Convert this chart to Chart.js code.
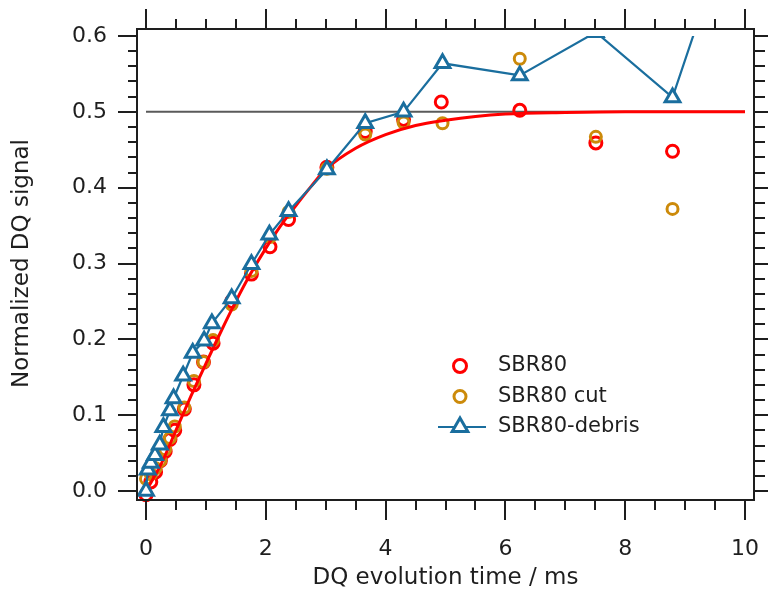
<!DOCTYPE html>
<html><head><meta charset="utf-8">
<script src="https://cdn.jsdelivr.net/npm/chart.js@4.4.1/dist/chart.umd.min.js"></script>
<style>html,body{margin:0;padding:0;background:#fff;}#wrap{width:768px;height:597px;}</style>
</head><body><div id="wrap"><canvas id="c" width="768" height="597"></canvas></div>
<script>
// ---- data ----
const xTitle = 'DQ evolution time / ms';
const yTitle = 'Normalized DQ signal';
const xTickValues = [0, 2, 4, 6, 8, 10];
const yTickValues = [0.0, 0.1, 0.2, 0.3, 0.4, 0.5, 0.6];

const sbr80X = [0, 0.08, 0.16, 0.24, 0.32, 0.40, 0.48, 0.64, 0.80, 0.96, 1.12, 1.43, 1.76, 2.07, 2.38, 3.02, 3.66, 4.30, 4.93, 6.24, 7.51, 8.79];
const sbr80Y = [-0.005, 0.012, 0.025, 0.040, 0.052, 0.068, 0.080, 0.108, 0.140, 0.170, 0.195, 0.250, 0.286, 0.322, 0.358, 0.427, 0.474, 0.490, 0.513, 0.502, 0.459, 0.448];

const cutX = [0, 0.08, 0.16, 0.24, 0.32, 0.40, 0.48, 0.64, 0.80, 0.96, 1.12, 1.43, 1.76, 2.07, 2.38, 3.02, 3.66, 4.30, 4.95, 6.24, 7.51, 8.79];
const cutY = [0.016, 0.022, 0.030, 0.040, 0.055, 0.070, 0.085, 0.110, 0.145, 0.170, 0.199, 0.246, 0.290, 0.335, 0.368, 0.425, 0.470, 0.486, 0.485, 0.570, 0.467, 0.372];

const debrisX = [0, 0.03, 0.08, 0.15, 0.23, 0.29, 0.40, 0.46, 0.62, 0.78, 0.97, 1.10, 1.43, 1.76, 2.06, 2.38, 3.02, 3.66, 4.30, 4.95, 6.24, 7.51, 8.79, 10.07];
const debrisY = [0.000, 0.028, 0.037, 0.047, 0.061, 0.084, 0.106, 0.122, 0.152, 0.182, 0.198, 0.221, 0.254, 0.299, 0.338, 0.369, 0.424, 0.485, 0.500, 0.564, 0.548, 0.605, 0.519, 0.82];

const fitX = [0, 0.25, 0.5, 0.75, 1.0, 1.25, 1.5, 1.75, 2.0, 2.25, 2.5, 2.75, 3.0, 3.5, 4.0, 4.5, 5.0, 5.5, 6.0, 7.0, 8.0, 10.0];
const fitY = [0, 0.035, 0.080, 0.125, 0.168, 0.210, 0.250, 0.287, 0.320, 0.350, 0.376, 0.401, 0.424, 0.452, 0.470, 0.482, 0.489, 0.494, 0.497, 0.499, 0.500, 0.500];

const refX = [0, 10];
const refY = [0.5, 0.5];

const legendLabels = ['SBR80', 'SBR80 cut', 'SBR80-debris'];

// ---- helpers ----
const pts = (xs, ys) => xs.map((v, i) => ({x: v, y: ys[i]}));
const RED = '#ff0000', ORANGE = '#cc8a0a', BLUE = '#1a6e9e', INK = '#1e1e1e';
const FONT = 'DejaVu Sans';
Chart.defaults.font.family = FONT;

const xMinorStep = 0.5, yMinorStep = 0.02;

const framePlugin = {
  id: 'frame',
  afterDraw(chart) {
    const {ctx, chartArea: a, scales: {x, y}} = chart;
    const L = a.left - 9, R = a.right + 9, T = a.top - 7, B = a.bottom + 9;
    ctx.save();
    ctx.strokeStyle = INK;
    ctx.lineWidth = 2;
    ctx.strokeRect(L, T, R - L, B - T);
    ctx.beginPath();
    const nx = Math.round((x.max - x.min) / xMinorStep);
    for (let i = 0; i <= nx; i++) {
      const v = x.min + i * xMinorStep;
      const px = Math.round(x.getPixelForValue(v));
      const len = (i % 4 === 0) ? 20 : 10;
      ctx.moveTo(px, B); ctx.lineTo(px, B + len);
      ctx.moveTo(px, T); ctx.lineTo(px, T - len);
    }
    const ny = Math.round((y.max - y.min) / yMinorStep);
    for (let i = 0; i <= ny; i++) {
      const v = y.min + i * yMinorStep;
      const py = Math.round(y.getPixelForValue(v));
      const len = (i % 5 === 0) ? 19 : 9;
      ctx.moveTo(L, py); ctx.lineTo(L - len, py);
      ctx.moveTo(R, py); ctx.lineTo(R + ((i % 5 === 0) ? 18 : 11), py);
    }
    ctx.stroke();
    ctx.restore();
  }
};

const legendPlugin = {
  id: 'customLegend',
  afterDraw(chart) {
    const {ctx} = chart;
    const order = [3, 2, 0]; // dataset indices: SBR80, SBR80 cut, SBR80-debris
    const mx = 460, tx = 498, y0 = 366, dy = 30.5;
    ctx.save();
    order.forEach((di, k) => {
      const ds = chart.data.datasets[di];
      const yy = y0 + k * dy;
      if (ds.showLine) {
        ctx.strokeStyle = ds.borderColor;
        ctx.lineWidth = ds.borderWidth;
        ctx.beginPath(); ctx.moveTo(438, yy); ctx.lineTo(486, yy); ctx.stroke();
      }
      ctx.fillStyle = ds.pointBackgroundColor;
      ctx.strokeStyle = ds.pointBorderColor;
      ctx.lineWidth = ds.pointBorderWidth;
      Chart.helpers.drawPoint(ctx, {pointStyle: ds.pointStyle, radius: ds.pointRadius + 0.5, borderWidth: ds.pointBorderWidth, rotation: 0}, mx, yy);
      ctx.fillStyle = INK;
      ctx.font = '21px "' + FONT + '"';
      ctx.textBaseline = 'middle';
      ctx.textAlign = 'left';
      ctx.fillText(legendLabels[k], tx, yy);
    });
    ctx.restore();
  }
};

const zeroPad = s => { s.paddingLeft = 0; s.paddingRight = 0; s.paddingTop = 0; s.paddingBottom = 0; };

new Chart(document.getElementById('c'), {
  type: 'scatter',
  data: {
    datasets: [
      { label: legendLabels[2], data: pts(debrisX, debrisY), showLine: true,
        borderColor: BLUE, borderWidth: 2.2, pointStyle: 'triangle', pointRadius: 8.5,
        pointBorderWidth: 3, pointBorderColor: BLUE, pointBackgroundColor: '#ffffff',
        clip: {left: 20, top: 0, right: 0, bottom: 20} },
      { label: 'fit', data: pts(fitX, fitY), showLine: true, borderColor: RED, borderWidth: 3,
        pointRadius: 0, cubicInterpolationMode: 'monotone' },
      { label: legendLabels[1], data: pts(cutX, cutY), pointStyle: 'circle', pointRadius: 5.5,
        pointBorderWidth: 3, pointBorderColor: ORANGE, pointBackgroundColor: 'rgba(0,0,0,0)', clip: false },
      { label: legendLabels[0], data: pts(sbr80X, sbr80Y), pointStyle: 'circle', pointRadius: 6,
        pointBorderWidth: 3, pointBorderColor: RED, pointBackgroundColor: 'rgba(0,0,0,0)', clip: false },
      { label: 'ref', data: pts(refX, refY), showLine: true, borderColor: '#5a5a5a', borderWidth: 2, pointRadius: 0 }
    ]
  },
  options: {
    responsive: false,
    animation: false,
    events: [],
    layout: { padding: { left: 0, top: 36, right: 23, bottom: 0 } },
    plugins: { legend: { display: false }, tooltip: { enabled: false } },
    scales: {
      x: {
        type: 'linear', position: 'bottom', min: 0, max: 10,
        afterFit: s => { s.height = 106; zeroPad(s); },
        afterBuildTicks: s => { s.ticks = xTickValues.map(v => ({value: v})); },
        grid: { display: false, drawTicks: false }, border: { display: false },
        ticks: { padding: 45, color: INK, font: { size: 22 }, callback: v => String(v) },
        title: { display: true, text: xTitle, color: INK, font: { size: 23 }, padding: { top: 0, bottom: 5 } }
      },
      y: {
        type: 'linear', position: 'left', min: 0, max: 0.6,
        afterFit: s => { s.width = 146; zeroPad(s); },
        afterBuildTicks: s => { s.ticks = yTickValues.map(v => ({value: v})); },
        grid: { display: false, drawTicks: false }, border: { display: false },
        ticks: { padding: 39, color: INK, font: { size: 22 }, callback: v => Number(v).toFixed(1) },
        title: { display: true, text: yTitle, color: INK, font: { size: 23 }, padding: { top: 8, bottom: 0 } }
      }
    }
  },
  plugins: [framePlugin, legendPlugin]
});
</script></body></html>
